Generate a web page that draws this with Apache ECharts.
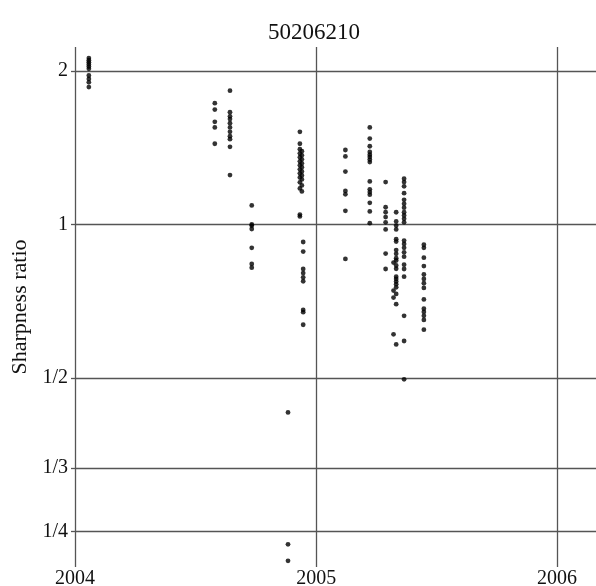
<!DOCTYPE html>
<html>
<head>
<meta charset="utf-8">
<script src="https://cdn.jsdelivr.net/npm/echarts@6/dist/echarts.min.js"></script>
<style>
  html, body { margin: 0; padding: 0; background: #fff; }
  #chart { width: 596px; height: 586px; }
</style>
</head>
<body>
<div id="chart"></div>
<script>
// one date per column of points, and the ratios measured on that date
const batchDates = [
  '2004-01-22', '2004-07-31', '2004-08-23', '2004-09-25',
  '2004-11-19', '2004-12-07', '2004-12-10', '2004-12-12',
  '2005-02-14', '2005-03-23', '2005-04-16', '2005-04-28',
  '2005-05-02', '2005-05-14', '2005-06-13'
]
const batchRatios = [
  [2.12, 2.10, 2.08, 2.06, 2.04, 2.02, 1.96, 1.93, 1.90, 1.86],
  [1.73, 1.68, 1.59, 1.55, 1.44],
  [1.83, 1.66, 1.63, 1.61, 1.58, 1.55, 1.52, 1.49, 1.47, 1.42, 1.25],
  [1.09, 1.0, 0.995, 0.98, 0.90, 0.837, 0.823],
  [0.428, 0.236, 0.219],
  [1.52, 1.44, 1.405, 1.379, 1.355, 1.330, 1.307, 1.283, 1.260, 1.237, 1.210, 1.177, 1.046, 1.037],
  [1.392, 1.367, 1.342, 1.318, 1.295, 1.271, 1.248, 1.226, 1.193, 1.161],
  [0.924, 0.885, 0.818, 0.803, 0.788, 0.774, 0.68, 0.673, 0.636],
  [1.40, 1.36, 1.27, 1.164, 1.146, 1.064, 0.856],
  [1.55, 1.474, 1.424, 1.388, 1.371, 1.357, 1.341, 1.326, 1.215, 1.172, 1.158, 1.144, 1.103, 1.061, 1.006],
  [1.211, 1.081, 1.057, 1.034, 1.010, 0.978, 0.877, 0.818],
  [0.842, 0.742, 0.719, 0.609],
  [1.057, 1.014, 0.995, 0.978, 0.936, 0.926, 0.891, 0.876, 0.859, 0.850, 0.831, 0.819,
   0.790, 0.782, 0.773, 0.764, 0.753, 0.731, 0.698, 0.582],
  [1.230, 1.211, 1.188, 1.152, 1.118, 1.098, 1.079, 1.057, 1.042, 1.026, 1.010,
   0.930, 0.916, 0.900, 0.882, 0.865, 0.834, 0.818, 0.790, 0.662, 0.591, 0.497],
  [0.913, 0.900, 0.861, 0.829, 0.798, 0.782, 0.767, 0.751, 0.713, 0.684, 0.674, 0.662, 0.650, 0.622]
]
const yearTicks = ['2004-01-01', '2005-01-01', '2006-01-01']
const xRange = ['2004-01-01', '2006-03-01']
const ratioTicks = [1 / 4, 1 / 3, 1 / 2, 1, 2]
const ratioTickLabels = ['1/4', '1/3', '1/2', '1', '2']

const toTime = d => +new Date(d + 'T00:00:00')

let points = []
batchDates.forEach((d, i) => {
  batchRatios[i].forEach(r => points.push([toTime(d), r]))
})

const font = '"Liberation Serif", "DejaVu Serif", serif'
const lineColor = '#555'

let chart = echarts.init(document.getElementById('chart'))
chart.setOption({
  animation: false,
  title: {
    text: '50206210',
    left: 263,
    top: 16,
    textStyle: { fontFamily: font, fontWeight: 'normal', fontSize: 23, color: '#111' }
  },
  grid: { left: 75, right: 0, top: 47, bottom: 19, containLabel: false, outerBoundsMode: 'none' },
  xAxis: {
    type: 'value',
    min: toTime(xRange[0]),
    max: toTime(xRange[1]),
    axisLine: { show: false },
    axisTick: { show: false, customValues: yearTicks.map(toTime) },
    axisLabel: {
      customValues: yearTicks.map(toTime),
      formatter: v => String(new Date(v).getFullYear()),
      fontFamily: font,
      fontSize: 20,
      color: '#111',
      margin: 2
    },
    splitLine: { show: true, lineStyle: { color: lineColor, width: 1.3 } }
  },
  yAxis: {
    type: 'log',
    logBase: 2,
    min: 0.213,
    max: 2.229,
    name: 'Sharpness ratio',
    nameLocation: 'middle',
    nameGap: 42,
    nameTextStyle: { fontFamily: font, fontSize: 22, color: '#111' },
    axisLine: { show: false },
    axisTick: { show: true, length: 4, customValues: ratioTicks, lineStyle: { color: lineColor, width: 1.3 } },
    axisLabel: {
      customValues: ratioTicks,
      formatter: v => {
        let i = ratioTicks.findIndex(t => Math.abs(t - v) < 1e-6)
        return i >= 0 ? ratioTickLabels[i] : ''
      },
      fontFamily: font,
      fontSize: 20,
      color: '#111',
      margin: 7
    },
    splitLine: { show: true, lineStyle: { color: lineColor, width: 1.3 } }
  },
  series: [{
    type: 'scatter',
    data: points,
    symbolSize: 4.8,
    itemStyle: { color: '#000' }
  }]
})
</script>
</body>
</html>
